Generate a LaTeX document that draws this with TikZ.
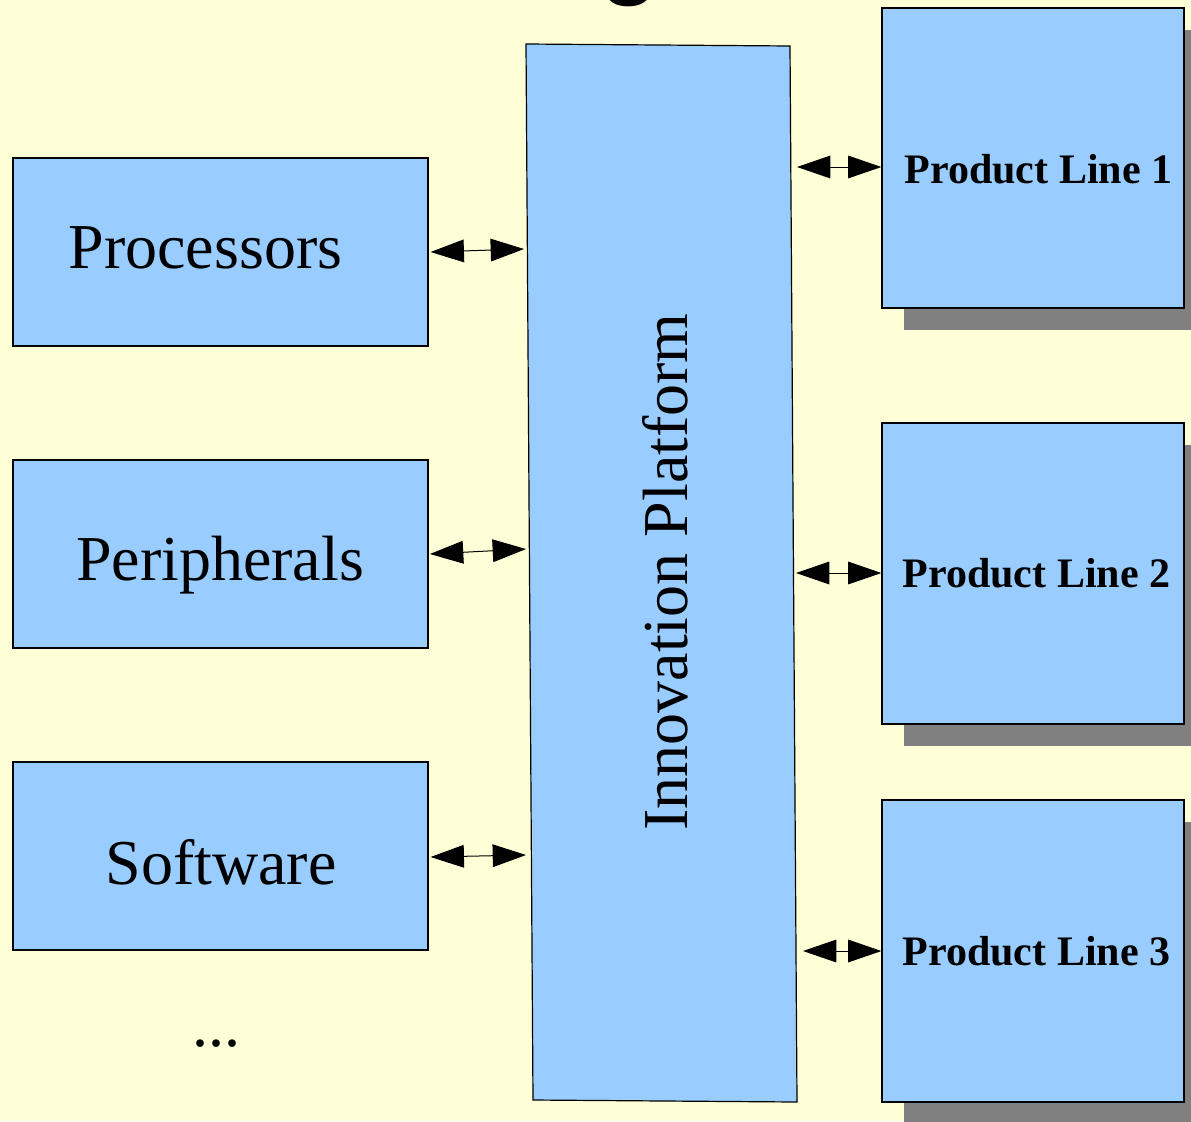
\documentclass[tikz,border=0pt]{standalone}
\usepackage{fontspec}
\setmainfont{Liberation Serif}
\newfontfamily\titlefont{Liberation Sans}
\usetikzlibrary{arrows.meta}
\definecolor{bg}{HTML}{FFFFD7}
\definecolor{boxblue}{HTML}{99CCFF}
\definecolor{shadowgray}{HTML}{808080}
\tikzset{
  bluebox/.style={draw=black, fill=boxblue, line width=0.9pt, inner sep=0pt},
  srcbox/.style={bluebox, rectangle, minimum width=415*0.75pt, minimum height=188*0.75pt},
  plbox/.style={bluebox, rectangle, minimum width=302*0.75pt, minimum height=300*0.75pt},
  shadowbox/.style={fill=shadowgray, draw=none},
  bigtext/.style={font=\fontsize{48}{50}\selectfont, inner sep=0pt, anchor=base},
  pltext/.style={font=\fontsize{31.5}{34}\selectfont\bfseries, inner sep=0pt, anchor=base},
  dbl/.style={line width=0.75pt, {Triangle[length=25pt,width=17pt]}-{Triangle[length=25pt,width=17pt]}}
}
\begin{document}
\begin{tikzpicture}[x=0.75pt, y=-0.75pt]
\fill[bg] (0,0) rectangle (1191,1121);
\useasboundingbox (0,0) rectangle (1191,1121);
% partial title glyph
\node[font=\titlefont\bfseries\fontsize{72}{72}\selectfont, inner sep=0pt, anchor=base] (title) at (630,-14) {g};
% left boxes
\node[srcbox] (proc) at (220.5,252) {};
\node[bigtext] (proct) at (205.5,268) {Processors};
\node[srcbox] (peri) at (220.5,554) {};
\node[bigtext] (perit) at (220,580) {Peripherals};
\node[srcbox] (soft) at (220.5,856) {};
\node[bigtext] (softt) at (221,884) {Software};
\node[bigtext] (dots) at (216,1046) {...};
% innovation platform (slightly skewed)
\draw[bluebox] (526,44) -- (790,46) -- (797,1102) -- (533,1100) -- cycle;
\node[bigtext, rotate=90] (ip) at (687,572) {Innovation Platform};
\coordinate (ipL1) at (524,249);
\coordinate (ipL2) at (526,549);
\coordinate (ipL3) at (526,855);
\coordinate (ipR1) at (797,167);
\coordinate (ipR2) at (796,573);
\coordinate (ipR3) at (803,951);
% product lines with shadows
\fill[shadowgray] (904,30) rectangle (1206,330);
\fill[shadowgray] (904,445) rectangle (1206,746);
\fill[shadowgray] (904,822) rectangle (1206,1124);
\node[plbox] (pl1) at (1033,158) {};
\node[pltext] (pl1t) at (1038.5,183) {Product Line 1};
\node[plbox, minimum height=301*0.75pt] (pl2) at (1033,573.5) {};
\node[pltext] (pl2t) at (1036.5,587) {Product Line 2};
\node[plbox, minimum height=302*0.75pt] (pl3) at (1033,951) {};
\node[pltext] (pl3t) at (1036.5,965) {Product Line 3};
% connectors
\draw[dbl] ([xshift=1.5pt]proc.east) -- (ipL1);
\draw[dbl] ([xshift=1pt]peri.east) -- (ipL2);
\draw[dbl] ([xshift=1.5pt,yshift=-0.75pt]soft.east) -- (ipL3);
\draw[dbl] (ipR1) -- (pl1.west |- ipR1);
\draw[dbl] (ipR2) -- (pl2.west |- ipR2);
\draw[dbl] (ipR3) -- (pl3.west |- ipR3);
\end{tikzpicture}
\end{document}
